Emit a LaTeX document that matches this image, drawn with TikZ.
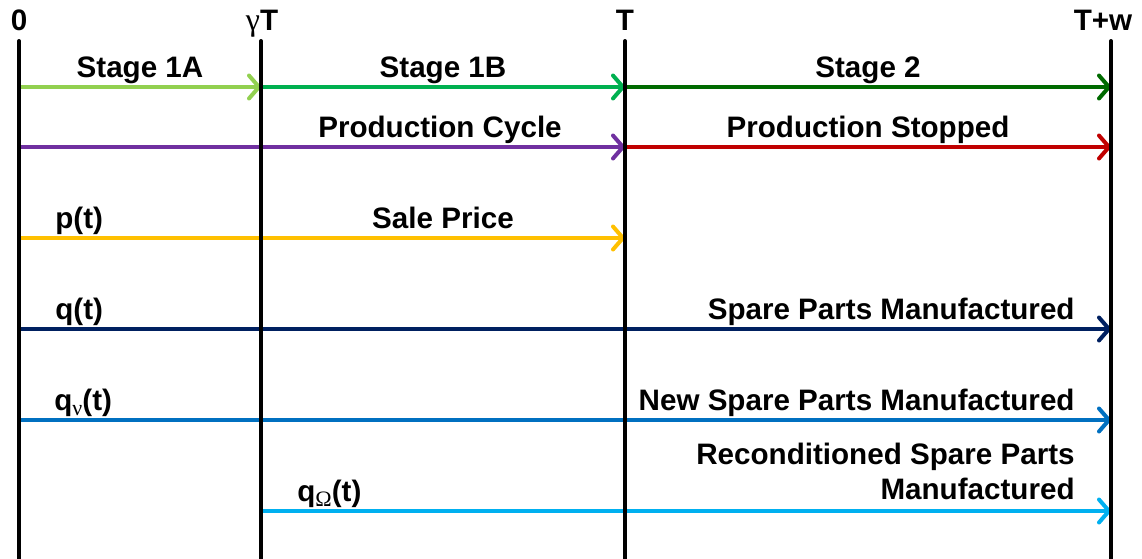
\documentclass[tikz,border=0pt]{standalone}
\usepackage{fontspec}
\setmainfont{Liberation Sans}
\newfontfamily\greekfont{Liberation Serif}
\usetikzlibrary{arrows.meta}
\definecolor{lgreen}{HTML}{92D050}
\definecolor{mgreen}{HTML}{00B050}
\definecolor{dgreen}{HTML}{006A00}
\definecolor{cpurple}{HTML}{7030A0}
\definecolor{cred}{HTML}{C00000}
\definecolor{cgold}{HTML}{FFC000}
\definecolor{cnavy}{HTML}{002060}
\definecolor{cblue}{HTML}{0070C0}
\definecolor{csky}{HTML}{00B0F0}
\newcommand{\gsub}[1]{\raisebox{-0.35ex}{\greekfont\mdseries\fontsize{11}{11}\selectfont #1}}
\begin{document}
\begin{tikzpicture}[x=0.5pt,y=-0.5pt,
  lbl/.style={font=\fontsize{14.8}{17.5}\selectfont\bfseries, inner sep=0pt},
  axis/.style={line width=2pt, black, line cap=round},
  flow/.style={line width=2pt,
    -{Straight Barb[length=5pt,width=11.5pt,line cap=round,line join=round]}},
  plain/.style={line width=2pt}]
\useasboundingbox (0,0) rectangle (1142,558);

% time marks
\node[lbl, anchor=base] (m0) at (19,30) {0};
\node[lbl, anchor=base] (mg) at (262,30) {{\greekfont\mdseries\fontsize{16}{16}\selectfont γ}T};
\node[lbl, anchor=base] (mt) at (625,30) {T};
\node[lbl, anchor=base] (mw) at (1103,30) {T+w};

% grid points on each row
\foreach \r/\y in {r1/87,r2/147,r3/238,r4/329,r5/420,r6/511}{
  \coordinate (\r-0) at (19,\y);
  \coordinate (\r-g) at (261,\y);
  \coordinate (\r-t) at (625,\y);
  \coordinate (\r-w) at (1111,\y);
}

% stages
\draw[flow, lgreen] (r1-0) -- (r1-g);
\draw[flow, mgreen] (r1-g) -- (r1-t);
\draw[flow, dgreen] (r1-t) -- (r1-w);
\node[lbl, anchor=base] (s1a) at (140,77) {Stage 1A};
\node[lbl, anchor=base] (s1b) at (443,77) {Stage 1B};
\node[lbl, anchor=base] (s2) at (868,77) {Stage 2};

% production
\draw[flow, cpurple] (r2-0) -- (r2-t);
\draw[flow, cred] (r2-t) -- (r2-w);
\node[lbl, anchor=base] (pc) at (440,137) {Production Cycle};
\node[lbl, anchor=base] (ps) at (868,137) {Production Stopped};

% sale price
\draw[flow, cgold] (r3-0) -- (r3-t);
\node[lbl, anchor=base west] (pt) at (55,228) {p(t)};
\node[lbl, anchor=base] (sp) at (443,228) {Sale Price};

% spare parts
\draw[flow, cnavy] (r4-0) -- (r4-w);
\node[lbl, anchor=base west] (qt) at (55,319) {q(t)};
\node[lbl, anchor=base east] (spm) at (1075,319) {Spare Parts Manufactured};

\draw[flow, cblue] (r5-0) -- (r5-w);
\node[lbl, anchor=base west] (qn) at (54,410) {q\gsub{ν}(t)};
\node[lbl, anchor=base east] (nspm) at (1075,410) {New Spare Parts Manufactured};

\draw[flow, csky] (r6-g) -- (r6-w);
\node[lbl, anchor=base west] (qo) at (297,501) {q\gsub{Ω}(t)};
\node[lbl, anchor=base east, align=right] (rspm) at (1075,499)
  {Reconditioned Spare Parts\\Manufactured};

% time axes
\draw[axis] (19,41) -- (19,562);
\draw[axis] (261,41) -- (261,562);
\draw[axis] (625,41) -- (625,562);
\draw[axis] (1111,41) -- (1111,562);
\end{tikzpicture}
\end{document}
